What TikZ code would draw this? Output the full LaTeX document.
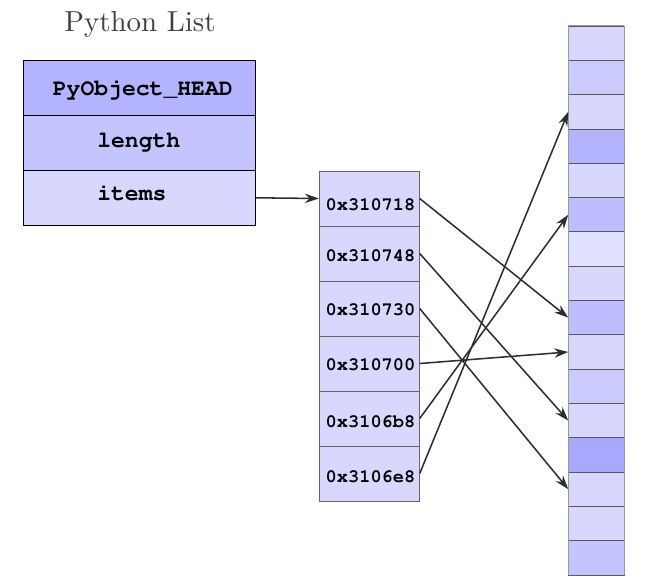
\documentclass[tikz,border=0pt]{standalone}
\usepackage[T1,TU]{fontenc}
\usepackage{graphicx}
\usetikzlibrary{arrows.meta}
\newcommand\courb{\fontencoding{T1}\fontfamily{pcr}\fontseries{b}\fontshape{n}\selectfont}
\definecolor{cA}{HTML}{B3B3FF}
\definecolor{cB}{HTML}{C4C4FF}
\definecolor{cC}{HTML}{D8D8FF}
\definecolor{cD}{HTML}{CACAFF}
\definecolor{cE}{HTML}{BDBDFF}
\definecolor{cF}{HTML}{E0E0FF}
\definecolor{cG}{HTML}{A8A8FF}
\definecolor{titlegray}{HTML}{404040}
\begin{document}
\begin{tikzpicture}[x=0.75pt,y=-0.75pt,
  lcell/.style={draw=black,line width=0.6pt,minimum width=174.3pt,minimum height=41.25pt,inner sep=0pt},
  mcell/.style={draw=black!60,line width=0.6pt,fill=cC,minimum width=75pt,minimum height=41.25pt,inner sep=0pt},
  rcell/.style={draw=black!65,line width=0.6pt,minimum width=41.5pt,minimum height=25.73pt,inner sep=0pt},
  ltext/.style={inner sep=0pt,font=\fontsize{17.3}{20}\courb},
  mtext/.style={inner sep=0pt,anchor=base,font=\fontsize{14}{17}\courb},
  ptr/.style={draw=black!82,line width=1.15pt,-{Stealth[length=10.5pt,width=7pt]}}]
\useasboundingbox (0,0) rectangle (648,586);
% title
\node[anchor=base,inner sep=0pt,text=titlegray,font=\fontsize{10}{12}\selectfont] (title) at (140,31.7) {\scalebox{2.17}{Python List}};
% list object
\node[lcell,fill=cA] (head) at (139.5,88.2) {};
\node[lcell,fill=cB] (len) at (139.5,142.8) {};
\node[lcell,fill=cC] (items) at (139.5,197.8) {};
\node[ltext,anchor=base] (thead) at (142.8,95) {PyObject\_HEAD};
\node[ltext,anchor=base west] (tlen) at (97,147.3) {length};
\node[ltext,anchor=base west] (titems) at (97,200) {items};
% pointer array
\foreach \i/\y in {1/198.5,2/253.5,3/308.5,4/363.5,5/418.5,6/473.5}
  \node[mcell] (m\i) at (369.3,\y) {};
\node[mtext] (t1) at (370.5,210) {0x310718};
\node[mtext] (t2) at (370.5,261.7) {0x310748};
\node[mtext] (t3) at (370.5,315) {0x310730};
\node[mtext] (t4) at (370.5,370.7) {0x310700};
\node[mtext] (t5) at (370.5,427.3) {0x3106b8};
\node[mtext] (t6) at (370.5,482.7) {0x3106e8};
% memory
\foreach \k/\c in {1/cC,2/cD,3/cC,4/cA,5/cC,6/cE,7/cF,8/cC,9/cE,10/cC,11/cD,12/cC,13/cG,14/cC,15/cC,16/cB}
  \node[rcell,fill=\c] (r\k) at (596.35,{26+34.3125*(\k-0.5)}) {};
\draw[black!40,line width=0.6pt] (r1.north west) -- (r16.south west) (r1.north east) -- (r16.south east) (r1.north west) -- (r1.north east);
% pointers
\draw[ptr] (items.east) -- (m1.west);
\draw[ptr] (m1.east) -- (r9.west);
\draw[ptr] (m2.east) -- (r12.west);
\draw[ptr] (m3.east) -- (r14.west);
\draw[ptr] (m4.east) -- (r10.west);
\draw[ptr] (m5.east) -- (r6.west);
\draw[ptr] (m6.east) -- (r3.west);
\end{tikzpicture}
\end{document}
